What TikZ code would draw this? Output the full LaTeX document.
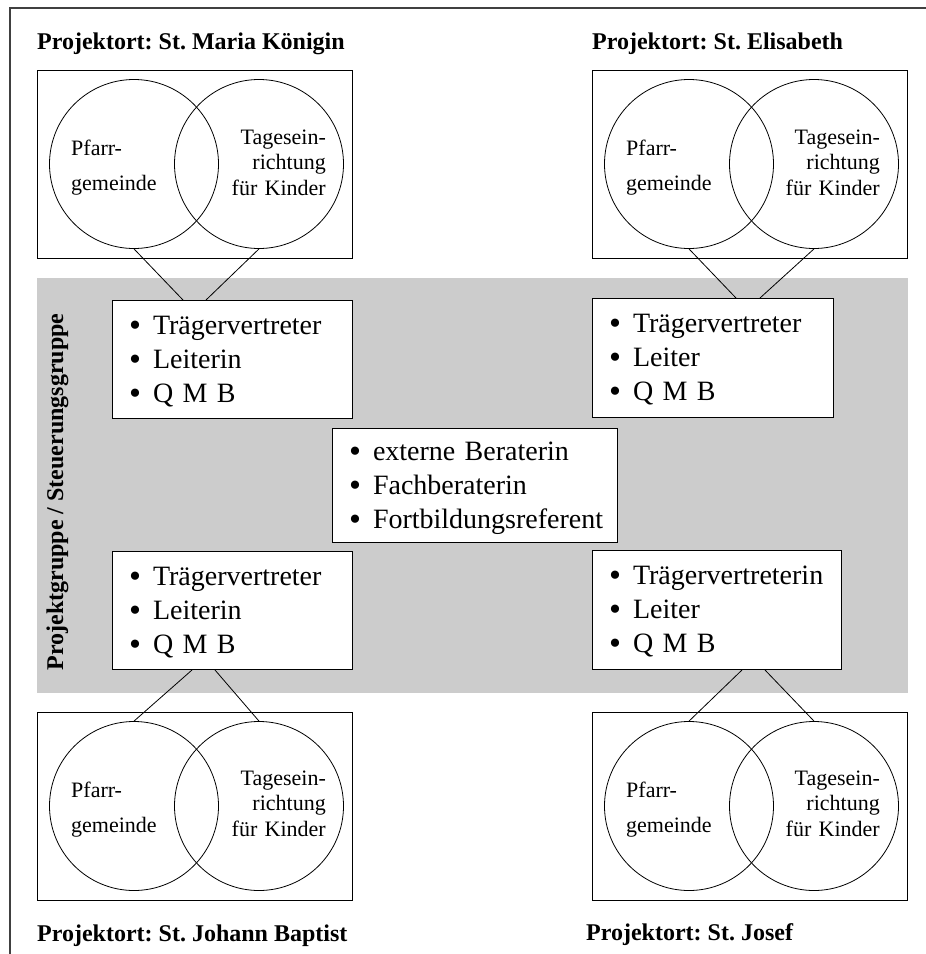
\documentclass[tikz,border=0pt]{standalone}
\usepackage{fontspec}
\usepackage{graphicx}
\setmainfont{Liberation Serif}
\frenchspacing
\tikzset{
    pageframe/.style = {
        line width=1.2pt,
        black!75
    },
    band/.style = {
        fill=black!20
    },
    site/.style = {
        draw,
        line width=1pt,
        anchor=north west,
        inner sep=0pt,
        minimum width=315pt,
        minimum height=188pt
    },
    ring/.style = {
        draw,
        circle,
        line width=0.8pt,
        minimum size=169pt,
        inner sep=0pt
    },
    members/.style = {
        draw,
        fill=white,
        line width=1pt,
        anchor=north west,
        inner xsep=16.5pt,
        inner ysep=0pt,
        align=left,
        text height=34pt,
        font=\fontsize{28}{34}\selectfont
    },
    connect/.style = {
        line width=0.8pt
    },
    heading/.style = {
        anchor=base west,
        inner sep=0pt,
        font=\fontsize{24}{28}\selectfont\bfseries
    },
    lefttext/.style = {
        anchor=base west,
        inner sep=0pt,
        text width=100pt,
        align=left,
        font=\fontsize{22}{35}\selectfont
    },
    righttext/.style = {
        anchor=base east,
        inner sep=0pt,
        text width=110pt,
        align=right,
        font=\fontsize{22}{25.5}\selectfont
    }
}
\newcommand{\bul}{\makebox[24pt][l]{\raisebox{-0.07em}{\scalebox{1.22}{\textbullet}}}}

\begin{document}
\begin{tikzpicture}[x=1pt, y=-1pt]
    \useasboundingbox (0,0) rectangle (926,954);

    % Draw frame and group band
    \draw[pageframe] (10,954) -- (10,8) -- (926,8);
    \fill[band] (37,278) rectangle (908,693);
    \node[heading, rotate=90, anchor=base] (gruppe) at (63,492) {Projektgruppe / Steuerungsgruppe};

    % Draw all sites
    \node[site] (tl-venn) at (37,70) {};
    \node[site] (tr-venn) at (592,70) {};
    \node[site] (bl-venn) at (37,712) {};
    \node[site] (br-venn) at (592,712) {};

    \node[ring] (tl-pg) at (134,164) {};
    \node[ring] (tl-ki) at (259,164) {};
    \node[ring] (tr-pg) at (689,164) {};
    \node[ring] (tr-ki) at (814,164) {};
    \node[ring] (bl-pg) at (134,806) {};
    \node[ring] (bl-ki) at (259,806) {};
    \node[ring] (br-pg) at (689,806) {};
    \node[ring] (br-ki) at (814,806) {};

    \node[lefttext] (tl-pg-txt) at (71,155) {Pfarr-\\gemeinde};
    \node[righttext] (tl-ki-txt) at (326,144) {Tagesein-\\richtung\\für Kinder};
    \node[lefttext] (tr-pg-txt) at (626,155) {Pfarr-\\gemeinde};
    \node[righttext] (tr-ki-txt) at (880,144) {Tagesein-\\richtung\\für Kinder};
    \node[lefttext] (bl-pg-txt) at (71,797) {Pfarr-\\gemeinde};
    \node[righttext] (bl-ki-txt) at (326,785) {Tagesein-\\richtung\\für Kinder};
    \node[lefttext] (br-pg-txt) at (626,797) {Pfarr-\\gemeinde};
    \node[righttext] (br-ki-txt) at (880,785) {Tagesein-\\richtung\\für Kinder};

    % Draw member lists
    \node[members, text width=207pt, text depth=84pt] (tl-list) at (112,300)
        {\bul Trägervertreter\\\bul Leiterin\\\bul Q M B};
    \node[members, text width=208pt, text depth=85pt] (tr-list) at (592,298)
        {\bul Trägervertreter\\\bul Leiter\\\bul Q M B};
    \node[members, text width=207pt, text depth=84pt] (bl-list) at (112,551)
        {\bul Trägervertreter\\\bul Leiterin\\\bul Q M B};
    \node[members, text width=216pt, text depth=85pt] (br-list) at (592,550)
        {\bul Trägervertreterin\\\bul Leiter\\\bul Q M B};
    \node[members, text width=252pt, text height=32pt, text depth=82pt] (beratung) at (332,428)
        {\bul externe Beraterin\\\bul Fachberaterin\\\bul Fortbildungsreferent};

    \draw[connect] (tl-pg.south) -- ([xshift=71pt]tl-list.north west);
    \draw[connect] (tl-ki.south) -- ([xshift=94pt]tl-list.north west);
    \draw[connect] (tr-pg.south) -- ([xshift=144pt]tr-list.north west);
    \draw[connect] (tr-ki.south) -- ([xshift=168pt]tr-list.north west);
    \draw[connect] ([xshift=80pt]bl-list.south west) -- (bl-pg.north);
    \draw[connect] ([xshift=103pt]bl-list.south west) -- (bl-ki.north);
    \draw[connect] ([xshift=150pt]br-list.south west) -- (br-pg.north);
    \draw[connect] ([xshift=173pt]br-list.south west) -- (br-ki.north);

    % Draw titles
    \node[heading] (tl-title) at (37,49) {Projektort: St. Maria Königin};
    \node[heading] (tr-title) at (592,49) {Projektort: St. Elisabeth};
    \node[heading] (bl-title) at (37,941) {Projektort: St. Johann Baptist};
    \node[heading] (br-title) at (586,940) {Projektort: St. Josef};
\end{tikzpicture}
\end{document}
